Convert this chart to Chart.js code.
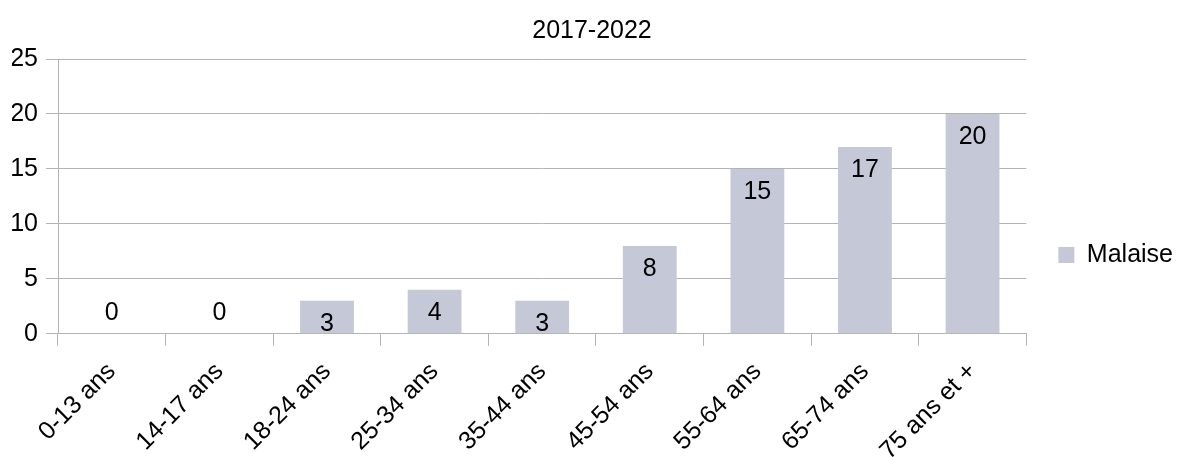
<!DOCTYPE html>
<html>
<head>
<meta charset="utf-8">
<title>Malaise 2017-2022</title>
<script src="https://cdn.jsdelivr.net/npm/chart.js@4.4.1/dist/chart.umd.min.js"></script>
<style>
  html, body { margin: 0; padding: 0; background: #fff; }
  #wrap { width: 1178px; height: 457px; }
</style>
</head>
<body>
<div id="wrap"><canvas id="myChart" width="1178" height="457"></canvas></div>
<script>
const ageGroups = ['0-13 ans', '14-17 ans', '18-24 ans', '25-34 ans', '35-44 ans', '45-54 ans', '55-64 ans', '65-74 ans', '75 ans et +'];
const malaise = [0, 0, 3, 4, 3, 8, 15, 17, 20];
const yTicks = [0, 5, 10, 15, 20, 25];

const gridGray = '#b3b3b3';
const barColor = '#c5c8d7';
const font = 'Liberation Sans, Arial, sans-serif';
const fontSize = 25;

Chart.defaults.font.family = font;
Chart.defaults.font.size = fontSize;
Chart.defaults.color = '#000';

// value labels: inside the top of the bar, or just above the axis for zeros
const valueLabels = {
    id: 'valueLabels',
    afterLayout(chart) {
        // center the title on the whole canvas, not the padded box
        if (chart.titleBlock) {
            chart.titleBlock.left = 0;
            chart.titleBlock.right = chart.width + 6;
        }
    },
    afterDatasetsDraw(chart) {
        const ctx = chart.ctx;
        const meta = chart.getDatasetMeta(0);
        ctx.save();
        ctx.font = fontSize + 'px ' + font;
        ctx.fillStyle = '#000';
        ctx.textAlign = 'center';
        ctx.textBaseline = 'middle';
        meta.data.forEach((bar, i) => {
            const v = chart.data.datasets[0].data[i];
            const y = v > 0 ? bar.y + 23 : bar.y - 21;
            ctx.fillText(String(v), bar.x, y);
        });
        ctx.restore();
    }
};

new Chart(document.getElementById('myChart'), {
    type: 'bar',
    data: {
        labels: ageGroups,
        datasets: [{
            label: 'Malaise',
            data: malaise,
            backgroundColor: barColor,
            borderWidth: 0,
            categoryPercentage: 1,
            barPercentage: 0.5
        }]
    },
    options: {
        responsive: false,
        animation: false,
        layout: { autoPadding: false, padding: { left: 12, right: -5, top: 0, bottom: -20 } },
        plugins: {
            title: {
                display: true,
                text: '2017-2022',
                font: { size: fontSize, weight: 'normal' },
                color: '#000',
                padding: { top: 16, bottom: 13 }
            },
            legend: {
                position: 'right',
                // empty title only pushes the single entry down a bit
                title: { display: true, text: ' ', font: { size: 1 }, padding: { top: 0, bottom: 32 } },
                labels: {
                    boxWidth: 16,
                    boxHeight: 16,
                    padding: 32,
                    font: { size: fontSize }
                }
            },
            tooltip: { enabled: false }
        },
        scales: {
            x: {
                offset: true,
                grid: {
                    offset: true,
                    drawOnChartArea: true,
                    color: c => c.index === ageGroups.length ? gridGray : 'rgba(0,0,0,0)',
                    tickColor: gridGray,
                    tickLength: 12
                },
                border: { color: gridGray },
                ticks: { minRotation: 45, maxRotation: 45, padding: 11 }
            },
            y: {
                min: 0,
                max: 25,
                afterBuildTicks: axis => { axis.ticks = yTicks.map(v => ({ value: v })); },
                afterFit: axis => { axis.width = 46; },
                grid: { color: gridGray, tickColor: gridGray, tickLength: 12 },
                border: { color: gridGray },
                ticks: { padding: 8 }
            }
        }
    },
    plugins: [valueLabels]
});
</script>
</body>
</html>
